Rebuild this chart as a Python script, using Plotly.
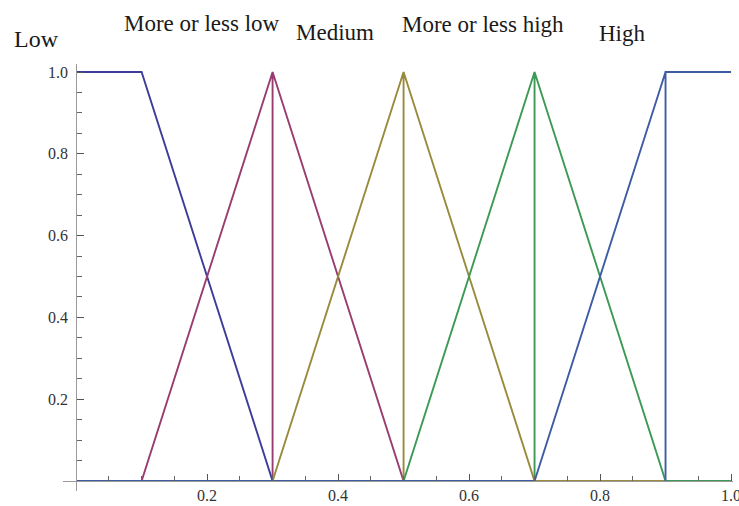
import plotly.graph_objects as go

# Fuzzy membership functions on [0, 1]
series_names = ["Low", "More or less low", "Medium", "More or less high", "High"]

low_x = [0.0, 0.1, 0.3, 1.0]
low_y = [1.0, 1.0, 0.0, 0.0]

mlow_x = [0.0, 0.1, 0.3, 0.3, 0.3, 0.5, 1.0]
mlow_y = [0.0, 0.0, 1.0, 0.0, 1.0, 0.0, 0.0]

medium_x = [0.0, 0.3, 0.5, 0.5, 0.5, 0.7, 1.0]
medium_y = [0.0, 0.0, 1.0, 0.0, 1.0, 0.0, 0.0]

mhigh_x = [0.0, 0.5, 0.7, 0.7, 0.7, 0.9, 1.0]
mhigh_y = [0.0, 0.0, 1.0, 0.0, 1.0, 0.0, 0.0]

high_x = [0.0, 0.7, 0.9, 0.9, 0.9, 1.0]
high_y = [0.0, 0.0, 1.0, 0.0, 1.0, 1.0]

major_ticks = [0.2, 0.4, 0.6, 0.8, 1.0]
major_labels = ["0.2", "0.4", "0.6", "0.8", "1.0"]
minor_ticks = [round(0.05 * i, 2) for i in range(1, 20) if i % 4 != 0]

colors = ["#3d3d99", "#993d71", "#998b3d", "#3d9956", "#3e5ca3"]
xs = [low_x, mlow_x, medium_x, mhigh_x, high_x]
ys = [low_y, mlow_y, medium_y, mhigh_y, high_y]

W, H = 739, 506
ML, MR, MT, MB = 63, 6, 64, 15

fig = go.Figure()
for name, x, y, c in zip(series_names, xs, ys, colors):
    fig.add_trace(go.Scatter(x=x, y=y, mode="lines", name=name,
                             line=dict(color=c, width=1.9),
                             cliponaxis=False, showlegend=False))

serif = "Liberation Serif"

# curve names written above the plot, placed in paper units
def paper_x(px):
    return (px - ML) / (W - ML - MR)

def paper_y(py):
    return (H - MB - py) / (H - MT - MB)

label_px = [(36, 39), (202, 24), (335, 33), (483, 25), (622, 34)]
label_size = [24, 23, 23, 23, 23]
for name, (px, py), fs in zip(series_names, label_px, label_size):
    fig.add_annotation(x=paper_x(px), y=paper_y(py), xref="paper", yref="paper",
                       text=name, showarrow=False,
                       xanchor="center", yanchor="middle",
                       font=dict(family=serif, size=fs, color="#1a1a1a"))

xr = [-0.02, 1.003]
yr = [-0.0245, 1.0196]

tick_font = dict(family=serif, size=16, color="#333333")

axis_common = dict(showgrid=False, zeroline=False, showline=True,
                   linecolor="#9a9a9a", linewidth=1,
                   ticks="inside", ticklen=7, tickwidth=1, tickcolor="#555555",
                   tickmode="array", tickvals=major_ticks, ticktext=major_labels,
                   tickfont=tick_font,
                   ticklabeloverflow="allow",
                   minor=dict(tickmode="array", tickvals=minor_ticks, ticks="inside",
                              ticklen=5, tickwidth=1, tickcolor="#666666"),
                   anchor="free", automargin=False, fixedrange=True)

fig.update_layout(
    width=W, height=H,
    margin=dict(l=ML, r=MR, t=MT, b=MB),
    font=tick_font,
    paper_bgcolor="white", plot_bgcolor="white",
    xaxis=dict(range=xr, position=(0 - yr[0]) / (yr[1] - yr[0]), **axis_common),
    yaxis=dict(range=yr, position=(0 - xr[0]) / (xr[1] - xr[0]),
               ticklabelstandoff=5, **axis_common),
)

fig.write_html("out.html")
